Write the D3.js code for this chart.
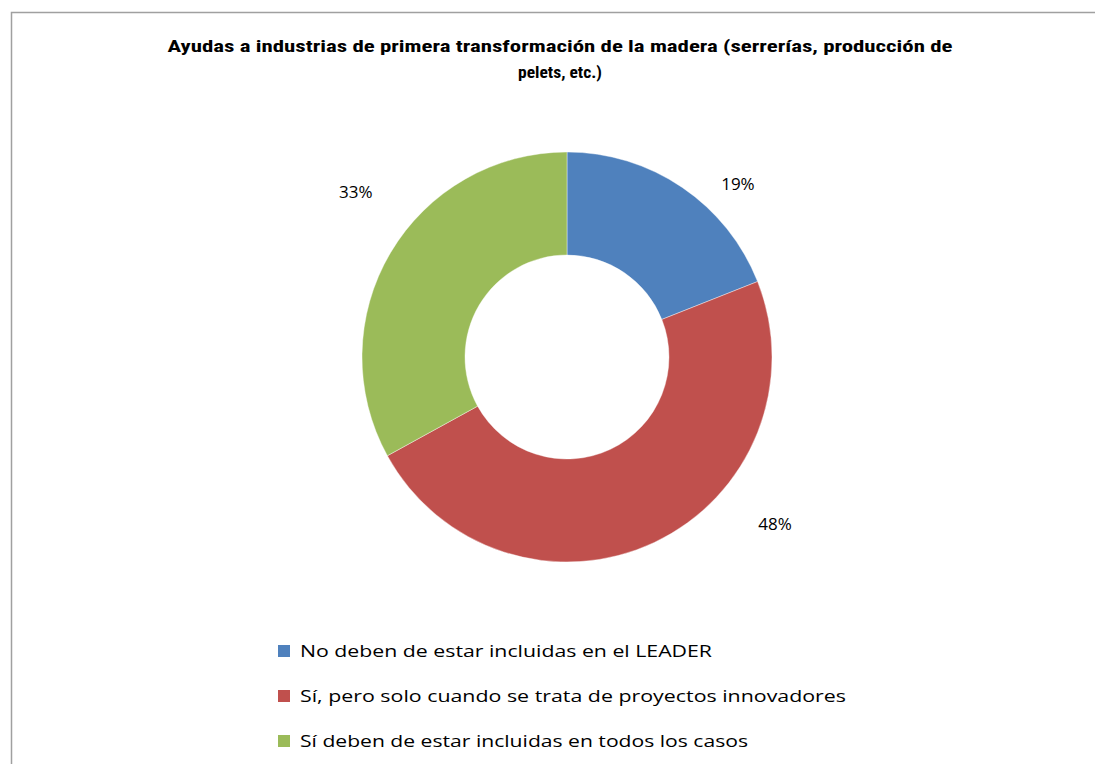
<!DOCTYPE html>
<html>
<head>
<meta charset="utf-8">
<script src="https://cdn.jsdelivr.net/npm/d3@7"></script>
<style>
  body { margin: 0; background: #fff; }
  text { font-family: 'Open Sans', 'Liberation Sans', sans-serif; fill: #000; }
  .title { font-family: 'Liberation Sans Narrow', 'Roboto Condensed', 'Liberation Sans', sans-serif; }
</style>
</head>
<body>
<div id="chart"></div>
<script>
const titleLines = ['Ayudas a industrias  de primera transformación  de la madera  (serrerías, producción  de', 'pelets, etc.)']
const categories = [
  'No deben de estar incluidas en el LEADER',
  'Sí, pero solo cuando se trata  de proyectos innovadores',
  'Sí deben de estar  incluidas en todos los casos'
]
const values = [19, 48, 33]
const labels = ['19%', '48%', '33%']
const colors = ['#4f81bd', '#c0504d', '#9bbb59']

// label placement (angle in degrees clockwise from top, distance from centre)
const labelLayout = [[44.7, 243], [128.8, 267], [308, 268]]

const width = 1095, height = 764
const cx = 567, cy = 357
const outerR = 205, innerR = 102

const svg = d3.select('#chart').append('svg')
  .attr('width', width)
  .attr('height', height)

svg.append('rect')
  .attr('x', 11.5).attr('y', 12.5)
  .attr('width', 1100).attr('height', 800)
  .attr('fill', '#fff')
  .attr('stroke', '#a0a0a0')
  .attr('stroke-width', 1.5)

// title
const titleWidths = [785, 84]
svg.append('g')
  .selectAll('text')
  .data(titleLines)
  .enter()
  .append('text')
  .attr('class', 'title')
  .attr('x', 560)
  .attr('y', (d, i) => 52 + i * 26)
  .attr('text-anchor', 'middle')
  .attr('font-weight', 'bold')
  .attr('font-size', 17)
  .attr('textLength', (d, i) => titleWidths[i])
  .attr('lengthAdjust', 'spacingAndGlyphs')
  .text(d => d)

const pie = d3.pie().sort(null).value(d => d)
const arc = d3.arc().innerRadius(innerR).outerRadius(outerR)

const g = svg.append('g').attr('transform', `translate(${cx},${cy})`)

const arcs = pie(values)

g.selectAll('path')
  .data(arcs)
  .enter()
  .append('path')
  .attr('d', arc)
  .attr('fill', (d, i) => colors[i])
  .attr('stroke', '#fff')
  .attr('stroke-width', 0.4)

g.selectAll('.lbl')
  .data(arcs)
  .enter()
  .append('text')
  .attr('class', 'lbl')
  .attr('x', (d, i) => Math.sin(labelLayout[i][0] * Math.PI / 180) * labelLayout[i][1])
  .attr('y', (d, i) => -Math.cos(labelLayout[i][0] * Math.PI / 180) * labelLayout[i][1])
  .attr('dy', '0.35em')
  .attr('text-anchor', 'middle')
  .attr('font-size', 17)
  .text((d, i) => labels[i])

// legend
const legendY = d3.scalePoint().domain(categories).range([651, 741])
const legendWidths = [412, 546, 448]

const legend = svg.append('g')
  .selectAll('g')
  .data(categories)
  .enter()
  .append('g')
  .attr('transform', d => `translate(278,${legendY(d)})`)

legend.append('rect')
  .attr('x', 0).attr('y', -6)
  .attr('width', 12).attr('height', 12)
  .attr('fill', (d, i) => colors[i])

legend.append('text')
  .attr('x', 22)
  .attr('dy', '0.35em')
  .attr('font-size', 17)
  .attr('textLength', (d, i) => legendWidths[i])
  .attr('lengthAdjust', 'spacingAndGlyphs')
  .text(d => d)
</script>
</body>
</html>
